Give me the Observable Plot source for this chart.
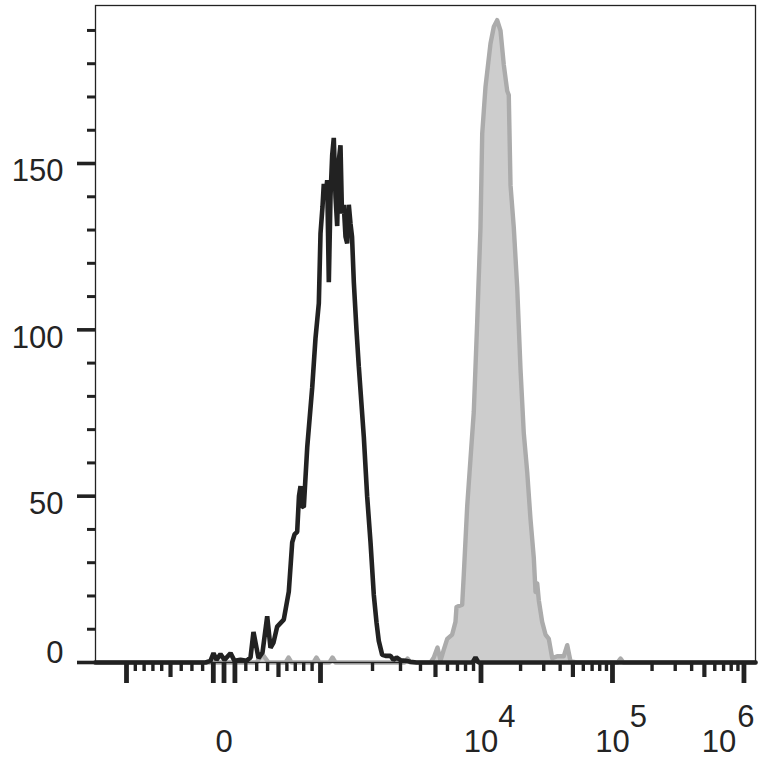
<!DOCTYPE html>
<html><head><meta charset="utf-8">
<script src="https://cdn.jsdelivr.net/npm/d3@7"></script>
<script src="https://cdn.jsdelivr.net/npm/@observablehq/plot@0.6"></script>
<style>body{margin:0;background:#fff}#chart{width:764px;height:773px}</style>
</head><body><div id="chart"></div>
<script>
// Black histogram (isotype / unstained), x in display channels (0..1024)
const blackChannel = [0,170.7,178.4,183.1,187.7,193.9,200.1,209.5,215.7,225,234.3,240.5,245.1,252.9,259.1,266.4,271.5,276.2,281.9,292.1,299.9,305.2,308.8,312.9,315.7,318.1,320.4,323.2,328.5,336.2,341.3,346.5,349.1,352.2,354.2,356.8,359.5,362,364.6,367.2,369.7,372.4,375,377,380.1,382.4,385.2,387.9,390.5,393,395.6,398,400.8,404.9,408.5,416.3,421.5,426.7,431.8,436,439.5,444.8,450,457.7,462.3,467,473.2,481,488.7,498,584.9,589.6,594.2,1024];
const blackCount   = [0,0,0.5,2.8,0.8,2.5,0.8,2.8,0.5,0.8,0.5,1.5,9.2,1.3,3,13.9,4.4,6,10.8,12.9,21.3,36.1,38.5,39.3,50,53,47,46.7,64.7,82.6,97.4,108,129,137,143.9,140,145,114.3,140,152.4,157.7,140,131.2,150,155.5,135,137.6,128,126,137.6,132,128,114.3,100,89,67.8,49.9,36.1,20.3,12,6.5,2.3,2,2,0.8,1.5,0.7,0.5,0.2,0,0,1.5,0,0];

// Gray filled histogram (stained)
const grayChannel = [0,249.8,259.1,268.4,294.8,299.4,304.1,338.2,342.9,347.5,363,367.7,372.4,479.4,484.1,488.7,504.2,519.8,524.9,530.6,535.3,540.4,545.7,553.4,558.5,560.1,568.9,571.4,576.7,581.8,586.9,592.2,597.3,600,605.1,612.8,618,623.2,628.4,633.5,638.8,641.2,643.9,649,654.3,659.4,664.5,669.8,674.9,680,682.7,685.3,687.8,693,698.2,703.3,708.6,716.3,726.6,731.9,737,747.4,809.9,814.6,819.2,1024];
const grayCount   = [0,0,2.5,0,0,1.5,0,0,1.5,0,0,1.5,0,0,1.2,0,0,0,1.5,4.5,0.6,3.9,7.1,8.4,12.2,16.7,17.4,26.4,47,61.2,75.3,102.3,130.7,159,173.1,186,191.1,193.1,189.9,179.6,171.8,170.6,143.5,130.7,112.7,88.2,68.9,57.3,43.1,31.5,21.2,23.8,18.7,12.2,8.4,7.1,1.3,1.9,1.9,5.2,0.3,0,0,1.2,0,0];

// Y axis ticks
const yMajorTicks = [0, 50, 100, 150];
const yMinorTicks = [10, 20, 30, 40, 60, 70, 80, 90, 110, 120, 130, 140, 160, 170, 180, 190];
const yLabels = ["0", "50", "100", "150"];

// X axis: biexponential display, anchors (raw value -> display channel)
const axisAnchorValues   = [-1000, -500, 0, 500, 1000, 2000, 3000, 4000, 5000, 6000, 7000, 8000, 9000, 10000];
const axisAnchorChannels = [48.1, 116.4, 199.4, 283.9, 349.1, 429.8, 473.2, 504.2, 527.5, 546.1, 561.6, 574.1, 586.5, 598.1];
const channelsPerDecade = 204;

const xMajorValues  = [-1000, -100, 0, 100, 1000, 1e4, 1e5, 1e6];
const xMediumValues = [-500, 500, 5000, 5e4, 5e5];
const xMinorValues  = [-900, -800, -700, -600, -400, -300, -200,
                       200, 300, 400, 600, 700, 800, 900,
                       2000, 3000, 4000, 6000, 7000, 8000, 9000,
                       2e4, 3e4, 4e4, 6e4, 7e4, 8e4, 9e4,
                       2e5, 3e5, 4e5, 6e5, 7e5, 8e5, 9e5];
const xLabelValues = [0, 1e4, 1e5, 1e6];
const xLabelBases  = ["0", "10", "10", "10"];
const xLabelExps   = ["", "4", "5", "6"];

const anchorScale = d3.scaleLinear().domain(axisAnchorValues).range(axisAnchorChannels);
function toChannel(v) {
  if (v <= 1e4) return anchorScale(v);
  return axisAnchorChannels[axisAnchorChannels.length - 1] + channelsPerDecade * Math.log10(v / 1e4);
}

const black = blackChannel.map((c, i) => ({c, n: blackCount[i]}));
const gray = grayChannel.map((c, i) => ({c, n: grayCount[i]}));
const xLabels = xLabelValues.map((v, i) => ({v, base: xLabelBases[i], exp: xLabelExps[i], last: i === xLabelValues.length - 1}));

const ink = "#222222";
const textInk = "#242424";
const font = "Liberation Sans, Arial, Helvetica, sans-serif";
const fs = 31;

const chart = Plot.plot({
  width: 764,
  height: 773,
  marginLeft: 95,
  marginRight: 9,
  marginTop: 5,
  marginBottom: 111,
  style: {fontFamily: font, background: "#fff", color: ink},
  x: {domain: [0, 1024], axis: null},
  y: {domain: [0, 197.5], axis: null},
  marks: [
    Plot.areaY(gray, {x: "c", y: "n", fill: "#cdcdcd", curve: "linear"}),
    Plot.line(gray, {x: "c", y: "n", stroke: "#ababab", strokeWidth: 4.4, curve: "linear"}),
    Plot.line(black, {x: "c", y: "n", stroke: ink, strokeWidth: 4.6, strokeLinejoin: "miter", curve: "linear"}),
    Plot.frame({stroke: ink, strokeWidth: 1.3}),
    // y ticks
    Plot.axisY({ticks: yMajorTicks, tickSize: 18, strokeWidth: 3.6, stroke: ink, tickFormat: () => "", label: null}),
    Plot.axisY({ticks: yMinorTicks, tickSize: 8, strokeWidth: 3, stroke: ink, tickFormat: () => "", label: null}),
    Plot.text(yMajorTicks.slice(1), {y: d => d, text: (d, i) => yLabels[i + 1], frameAnchor: "left", textAnchor: "end", dx: -32, dy: 8, fontSize: fs, fill: textInk}),
    Plot.text([yMajorTicks[0]], {y: d => d, text: () => yLabels[0], frameAnchor: "left", textAnchor: "end", dx: -32, dy: -9, fontSize: fs, fill: textInk}),
    // x ticks
    Plot.axisX({ticks: xMajorValues.map(toChannel), tickSize: 21, tickPadding: 0, strokeWidth: 4.8, stroke: ink, tickFormat: () => "", label: null}),
    Plot.axisX({ticks: xMediumValues.map(toChannel), tickSize: 15, strokeWidth: 4.2, stroke: ink, tickFormat: () => "", label: null}),
    Plot.axisX({ticks: xMinorValues.map(toChannel), tickSize: 9, strokeWidth: 3.4, stroke: ink, tickFormat: () => "", label: null}),
    // x labels
    Plot.text(xLabels.filter(d => !d.last), {x: d => toChannel(d.v), text: "base", frameAnchor: "bottom", lineAnchor: "middle", dy: 80, fontSize: fs, fill: textInk}),
    Plot.text(xLabels.filter(d => d.exp && !d.last), {x: d => toChannel(d.v), text: "exp", frameAnchor: "bottom", lineAnchor: "middle", dy: 55, dx: 26, fontSize: fs, fill: textInk}),
    Plot.text(xLabels.filter(d => d.last), {x: d => toChannel(d.v), text: "base", frameAnchor: "bottom", lineAnchor: "middle", dy: 80, dx: -25, fontSize: fs, fill: textInk}),
    Plot.text(xLabels.filter(d => d.last), {x: d => toChannel(d.v), text: "exp", frameAnchor: "bottom", lineAnchor: "middle", dy: 55, dx: 2, fontSize: fs, fill: textInk})
  ]
});
document.getElementById("chart").appendChild(chart);
</script>
</body></html>
